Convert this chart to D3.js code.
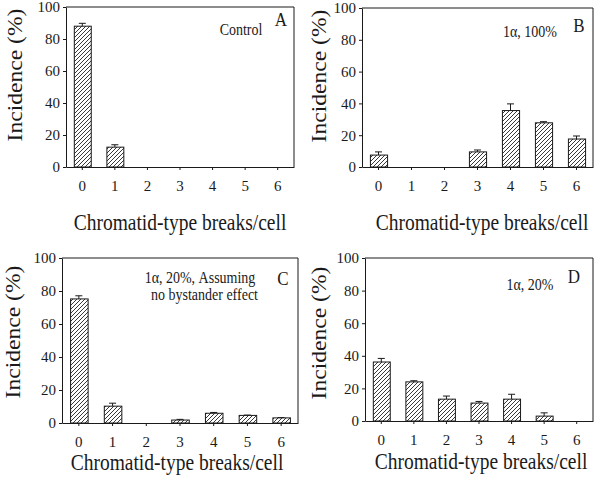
<!DOCTYPE html>
<html><head><meta charset="utf-8">
<script src="https://cdn.jsdelivr.net/npm/d3@7"></script>
<style>body{margin:0;background:#fff}svg{display:block}</style>
</head><body>
<script>
const categories = ["0","1","2","3","4","5","6"];
const yTicks = [0,20,40,60,80,100];
const valuesA = [88, 12.4, 0, 0, 0, 0, 0];
const errorsA = [1.8, 1.5, 0, 0, 0, 0, 0];
const valuesB = [7.5, 0, 0, 9.5, 35.5, 27.8, 17.6];
const errorsB = [2, 0, 0, 1.2, 4.2, 0.7, 1.9];
const valuesC = [75.2, 10.2, 0, 1.8, 5.9, 4.6, 3.1];
const errorsC = [1.9, 1.8, 0, 0.4, 0.5, 0.2, 0.2];
const valuesD = [36.2, 24, 13.4, 11, 13.4, 3, 0];
const errorsD = [2.2, 0.7, 1.9, 1.0, 3.0, 2.0, 0];
const labelA = "Control", labelB = "1α, 100%", labelD = "1α, 20%";
const labelC = ["1α, 20%, Assuming", "no bystander effect"];
const xTitle = "Chromatid-type breaks/cell";
const yTitle = "Incidence (%)";

const W = 602, H = 485, VS = 1.15;
const FONT = "Liberation Serif, Times New Roman, serif";
const INK = "#1a1a1a";
const svg = d3.select("body").append("svg").attr("width", W).attr("height", H)
  .attr("font-family", FONT);

const defs = svg.append("defs");
const pat = defs.append("pattern").attr("id","hatch").attr("patternUnits","userSpaceOnUse")
  .attr("width",4).attr("height",4);
pat.append("rect").attr("width",4).attr("height",4).attr("fill","#fff");
pat.append("path").attr("d","M-1,1 l2,-2 M0,4 l4,-4 M3,5 l2,-2")
  .attr("stroke","#222").attr("stroke-width",0.9);

function txt(g, x, y, s, size, anchor, rot) {
  return g.append("text")
    .attr("transform", `translate(${x},${y}) scale(1,${VS})` + (rot ? " rotate(-90)" : ""))
    .attr("font-family", FONT)
    .attr("text-anchor", anchor).attr("font-size", size).attr("fill", INK).text(s);
}

const panels = [
  {vals: valuesA, errs: errorsA, L:66, R:294, T:7, B:167, letter:"A", lx:281, ly:26,
   notes:[[labelA, 241, 35]], xtx:180, xty:230, ytx:22, yty:75},
  {vals: valuesB, errs: errorsB, L:362, R:593, T:8, B:167, letter:"B", lx:579, ly:32,
   notes:[[labelB, 530, 37]], xtx:482, xty:230, ytx:326, yty:76},
  {vals: valuesC, errs: errorsC, L:62, R:298, T:258, B:423, letter:"C", lx:283, ly:285,
   notes:[[labelC[0], 200, 283],[labelC[1], 204.5, 300]], xtx:177, xty:470, ytx:20, yty:332},
  {vals: valuesD, errs: errorsD, L:365, R:593, T:258, B:421, letter:"D", lx:574, ly:283,
   notes:[[labelD, 530, 290]], xtx:481, xty:469, ytx:326, yty:333}
];

panels.forEach(p => {
  const g = svg.append("g");
  const x = d3.scaleBand().domain(categories).range([p.L, p.R]).paddingInner(0.48).paddingOuter(0.24);
  const y = d3.scaleLinear().domain([0, 100]).range([p.B, p.T]);
  const data = categories.map((c,i) => ({c, v:p.vals[i], e:p.errs[i]}));

  const eb = g.append("g").attr("stroke", INK).attr("stroke-width",1);
  data.filter(d => d.e > 0).forEach(d => {
    const cx = x(d.c) + x.bandwidth()/2;
    eb.append("line").attr("x1",cx).attr("x2",cx).attr("y1",y(d.v)).attr("y2",y(d.v+d.e));
    eb.append("line").attr("x1",cx-3.5).attr("x2",cx+3.5).attr("y1",y(d.v+d.e)).attr("y2",y(d.v+d.e));
  });
  g.append("g").selectAll("rect").data(data.filter(d => d.v > 0)).join("rect")
    .attr("x", d => x(d.c)+0.5).attr("width", x.bandwidth())
    .attr("y", d => y(d.v)).attr("height", d => y(0)-y(d.v))
    .attr("fill","url(#hatch)").attr("stroke", INK).attr("stroke-width",1);

  g.append("path").attr("d",`M${p.L},${p.T}H${p.R}V${p.B}`).attr("fill","none")
    .attr("stroke", INK).attr("stroke-width",1);

  const ya = g.append("g").attr("transform",`translate(${p.L},0)`)
    .call(d3.axisLeft(y).tickValues(yTicks).tickSize(3).tickSizeOuter(0).tickPadding(3));
  const xa = g.append("g").attr("transform",`translate(0,${p.B})`)
    .call(d3.axisBottom(x).tickSize(3).tickSizeOuter(0).tickPadding(10));
  [ya, xa].forEach(a => {
    a.attr("font-family", FONT);
    a.select(".domain").attr("stroke", INK);
    a.selectAll(".tick line").attr("stroke", INK);
    a.selectAll("text").attr("font-family",FONT).attr("font-size",15).attr("fill", INK);
  });

  txt(g, p.xtx, p.xty, xTitle, 19.5, "middle");
  txt(g, p.ytx, p.yty, yTitle, 20.5, "middle", true);
  txt(g, p.lx, p.ly, p.letter, 17, "middle");
  p.notes.forEach(n => txt(g, n[1], n[2], n[0], 14, "middle"));
});
</script>
</body></html>
